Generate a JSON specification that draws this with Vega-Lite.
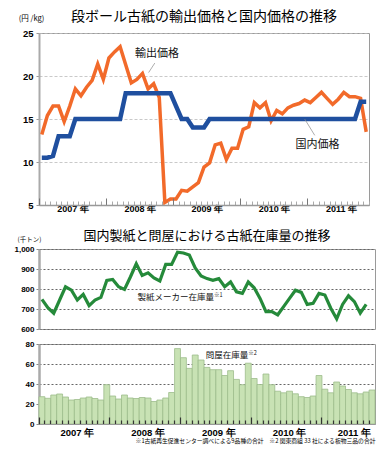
{
  "$schema": "https://vega.github.io/schema/vega-lite/v6.json",
  "background": "white",
  "padding": {"left": 13, "top": 9, "right": 4, "bottom": 2},
  "spacing": 15,
  "config": {
    "font": "Noto Sans CJK JP",
    "view": {"stroke": "#9a9a9a", "strokeWidth": 1},
    "axis": {"labelFont": "Liberation Sans", "labelFontWeight": "bold", "labelColor": "#000", "titleFont": "Noto Sans CJK JP", "titleFontWeight": "normal", "titleColor": "#000"},
    "title": {"font": "Noto Sans CJK JP", "fontWeight": "normal", "color": "#000", "anchor": "middle"}
  },
  "datasets": {
    "price": [
      {"i": 0, "e": 13.2, "d": 10.5}, {"i": 1, "e": 15.4, "d": 10.5}, {"i": 2, "e": 16.5, "d": 10.7}, {"i": 3, "e": 16.5, "d": 13},
      {"i": 4, "e": 14.7, "d": 13}, {"i": 5, "e": 16.5, "d": 13}, {"i": 6, "e": 18.5, "d": 15}, {"i": 7, "e": 17.7, "d": 15},
      {"i": 8, "e": 18.7, "d": 15}, {"i": 9, "e": 19.5, "d": 15}, {"i": 10, "e": 21.4, "d": 15}, {"i": 11, "e": 19.6, "d": 15},
      {"i": 12, "e": 22.1, "d": 15}, {"i": 13, "e": 22.8, "d": 15}, {"i": 14, "e": 23.4, "d": 15}, {"i": 15, "e": 21.3, "d": 18},
      {"i": 16, "e": 19.2, "d": 18}, {"i": 17, "e": 19.6, "d": 18}, {"i": 18, "e": 20.3, "d": 18}, {"i": 19, "e": 18.5, "d": 18},
      {"i": 20, "e": 19.1, "d": 18}, {"i": 21, "e": 17.5, "d": 18}, {"i": 22, "e": 5.3, "d": 18}, {"i": 23, "e": 5.7, "d": 18},
      {"i": 24, "e": 5.7, "d": 16.5}, {"i": 25, "e": 6.7, "d": 15}, {"i": 26, "e": 6.6, "d": 15}, {"i": 27, "e": 7.1, "d": 14},
      {"i": 28, "e": 7.6, "d": 14}, {"i": 29, "e": 9.4, "d": 14}, {"i": 30, "e": 9.9, "d": 15}, {"i": 31, "e": 12.0, "d": 15},
      {"i": 32, "e": 12.2, "d": 15}, {"i": 33, "e": 10.3, "d": 15}, {"i": 34, "e": 11.6, "d": 15}, {"i": 35, "e": 11.6, "d": 15},
      {"i": 36, "e": 13.8, "d": 15}, {"i": 37, "e": 14.1, "d": 15}, {"i": 38, "e": 16.9, "d": 15}, {"i": 39, "e": 16.3, "d": 15},
      {"i": 40, "e": 16.9, "d": 15}, {"i": 41, "e": 14.8, "d": 15}, {"i": 42, "e": 16.0, "d": 15}, {"i": 43, "e": 15.6, "d": 15},
      {"i": 44, "e": 16.3, "d": 15}, {"i": 45, "e": 16.6, "d": 15}, {"i": 46, "e": 16.8, "d": 15}, {"i": 47, "e": 17.2, "d": 15},
      {"i": 48, "e": 16.9, "d": 15}, {"i": 49, "e": 17.5, "d": 15}, {"i": 50, "e": 18.1, "d": 15}, {"i": 51, "e": 17.4, "d": 15},
      {"i": 52, "e": 16.7, "d": 15}, {"i": 53, "e": 17.3, "d": 15}, {"i": 54, "e": 18.1, "d": 15}, {"i": 55, "e": 17.6, "d": 15},
      {"i": 56, "e": 17.6, "d": 15}, {"i": 57, "e": 17.4, "d": 17}, {"i": 58, "e": 13.5, "d": 17}
    ],
    "inv": [
      {"i": 0, "m": 748, "w": 27.3}, {"i": 1, "m": 707, "w": 25.7}, {"i": 2, "m": 679, "w": 29}, {"i": 3, "m": 745, "w": 30},
      {"i": 4, "m": 811, "w": 27}, {"i": 5, "m": 794, "w": 24}, {"i": 6, "m": 745, "w": 24.5}, {"i": 7, "m": 773, "w": 26},
      {"i": 8, "m": 717, "w": 27}, {"i": 9, "m": 745, "w": 25.5}, {"i": 10, "m": 758, "w": 24}, {"i": 11, "m": 843, "w": 39.3},
      {"i": 12, "m": 848, "w": 28}, {"i": 13, "m": 811, "w": 25}, {"i": 14, "m": 798, "w": 29}, {"i": 15, "m": 860, "w": 26},
      {"i": 16, "m": 926, "w": 25.5}, {"i": 17, "m": 868, "w": 26.5}, {"i": 18, "m": 881, "w": 26}, {"i": 19, "m": 855, "w": 22.5},
      {"i": 20, "m": 840, "w": 24}, {"i": 21, "m": 923, "w": 26}, {"i": 22, "m": 923, "w": 31.5}, {"i": 23, "m": 984, "w": 75.4},
      {"i": 24, "m": 980, "w": 66.3}, {"i": 25, "m": 970, "w": 55.6}, {"i": 26, "m": 905, "w": 69}, {"i": 27, "m": 865, "w": 64},
      {"i": 28, "m": 852, "w": 56.6}, {"i": 29, "m": 843, "w": 54.3}, {"i": 30, "m": 852, "w": 54.3}, {"i": 31, "m": 811, "w": 48.5},
      {"i": 32, "m": 835, "w": 53.3}, {"i": 33, "m": 786, "w": 44.6}, {"i": 34, "m": 778, "w": 39.3}, {"i": 35, "m": 835, "w": 60.8},
      {"i": 36, "m": 806, "w": 45.5}, {"i": 37, "m": 753, "w": 39.5}, {"i": 38, "m": 687, "w": 50}, {"i": 39, "m": 687, "w": 39.3},
      {"i": 40, "m": 671, "w": 32.8}, {"i": 41, "m": 712, "w": 31.2}, {"i": 42, "m": 753, "w": 32.8}, {"i": 43, "m": 794, "w": 30.2},
      {"i": 44, "m": 783, "w": 27.3}, {"i": 45, "m": 723, "w": 26.5}, {"i": 46, "m": 728, "w": 28}, {"i": 47, "m": 778, "w": 48.5},
      {"i": 48, "m": 770, "w": 34.8}, {"i": 49, "m": 704, "w": 31.2}, {"i": 50, "m": 651, "w": 42}, {"i": 51, "m": 723, "w": 38},
      {"i": 52, "m": 766, "w": 34.5}, {"i": 53, "m": 737, "w": 31.2}, {"i": 54, "m": 679, "w": 30.2}, {"i": 55, "m": 723, "w": 32},
      {"i": 56, "m": null, "w": 34}
    ],
    "priceLabels": [
      {"i": 20.6, "e": 22.6, "label": "輸出価格"},
      {"i": 49.3, "e": 12.0, "label": "国内価格"}
    ],
    "priceLeaders": [
      {"i": 20.2, "e": 21.5, "i2": 19.1, "e2": 20.4},
      {"i": 47.0, "e": 15.0, "i2": 48.8, "e2": 13.1}
    ],
    "makerNotes": [
      {"i": 29.2, "m": 758, "t": "製紙メーカー在庫量", "s": "※1"}
    ],
    "wholesaleNotes": [
      {"i": 35, "w": 69, "t": "問屋在庫量", "s": "※2"}
    ]
  },
  "vconcat": [
    {
      "width": 330,
      "height": 172,
      "title": {"text": "段ボール古紙の輸出価格と国内価格の推移", "fontSize": 14, "offset": -10},
      "encoding": {
        "x": {
          "field": "i", "type": "quantitative",
          "scale": {"domain": [-0.5, 58.5], "nice": false, "zero": false},
          "axis": {
            "title": null, "grid": false, "zindex": 1,
            "values": [-0.5, 0.5, 1.5, 2.5, 3.5, 4.5, 5.5, 6.5, 7.5, 8.5, 9.5, 10.5, 11.5, 12.5, 13.5, 14.5, 15.5, 16.5, 17.5, 18.5, 19.5, 20.5, 21.5, 22.5, 23.5, 24.5, 25.5, 26.5, 27.5, 28.5, 29.5, 30.5, 31.5, 32.5, 33.5, 34.5, 35.5, 36.5, 37.5, 38.5, 39.5, 40.5, 41.5, 42.5, 43.5, 44.5, 45.5, 46.5, 47.5, 48.5, 49.5, 50.5, 51.5, 52.5, 53.5, 54.5, 55.5, 56.5, 57.5, 58.5],
            "labelExpr": "datum.value == 5.5 ? '2007 年' : datum.value == 17.5 ? '2008 年' : datum.value == 29.5 ? '2009 年' : datum.value == 41.5 ? '2010 年' : datum.value == 53.5 ? '2011 年' : ''",
            "labelFontSize": 9, "labelAngle": 0, "labelOverlap": false, "labelPadding": 3, "labelFlush": false,
            "domainColor": "#999", "domainWidth": 1.5,
            "tickSize": {"condition": {"test": "(datum.value + 0.5) % 12 == 0", "value": -7}, "value": -4},
            "tickColor": {"condition": {"test": "(datum.value + 0.5) % 12 == 0", "value": "#777"}, "value": "#aaa"},
            "tickWidth": 1
          }
        },
        "y": {
          "field": "e", "type": "quantitative", "title": "(円 /kg)",
          "scale": {"domain": [5, 25], "nice": false, "zero": false},
          "axis": {
            "values": [5, 10, 15, 20, 25], "grid": true, "gridColor": "#bbb", "gridDash": [3, 2], "gridWidth": 0.8,
            "domainColor": "#aaa", "domainWidth": 2, "tickColor": "#999", "tickSize": 3, "labelOverlap": false,
            "labelFontSize": 9.5, "labelPadding": 3,
            "titleAngle": 0, "titleX": -8, "titleY": -15, "titleAlign": "center", "titleBaseline": "middle", "titleFontSize": 7.5
          }
        }
      },
      "layer": [
        {
          "data": {"name": "price"},
          "mark": {"type": "line", "color": "#f26a2a", "strokeWidth": 3.5}
        },
        {
          "data": {"name": "price"},
          "mark": {"type": "line", "color": "#1f4f9f", "strokeWidth": 4.5},
          "encoding": {"y": {"field": "d", "type": "quantitative", "title": "(円 /kg)"}}
        },
        {
          "data": {"name": "priceLeaders"},
          "mark": {"type": "rule", "color": "#888", "strokeWidth": 0.7},
          "encoding": {
            "x2": {"field": "i2"},
            "y2": {"field": "e2"}
          }
        },
        {
          "data": {"name": "priceLabels"},
          "mark": {"type": "text", "fontSize": 11, "font": "Noto Sans CJK JP", "color": "#111"},
          "encoding": {"text": {"field": "label"}}
        }
      ]
    },
    {
      "spacing": 5,
      "vconcat": [
        {
          "width": 336,
          "height": 80,
          "title": {"text": "国内製紙と問屋における古紙在庫量の推移", "fontSize": 13, "offset": -7},
          "encoding": {
            "x": {"field": "i", "type": "quantitative", "scale": {"domain": [-0.5, 56.5], "nice": false, "zero": false}, "axis": null},
            "y": {
              "field": "m", "type": "quantitative", "title": "(千トン)",
              "scale": {"domain": [600, 1000], "nice": false, "zero": false},
              "axis": {
                "values": [600, 700, 800, 900, 1000], "format": ",d", "grid": true, "gridColor": "#666", "gridDash": [2, 2], "gridWidth": 1,
                "domainColor": "#aaa", "domainWidth": 2.5, "tickColor": "#888", "tickSize": 3, "labelOverlap": false,
                "labelFontSize": 8, "labelPadding": 2,
                "titleAngle": 0, "titleX": -10, "titleY": -10, "titleAlign": "center", "titleBaseline": "middle", "titleFontSize": 6.5
              }
            }
          },
          "layer": [
            {
              "data": {"name": "inv"},
              "mark": {"type": "line", "color": "#258a3a", "strokeWidth": 3.2}
            },
            {
              "data": {"name": "makerNotes"},
              "mark": {"type": "text", "fontSize": 8.5, "align": "right", "color": "#111"},
              "encoding": {"text": {"field": "t"}}
            },
            {
              "data": {"name": "makerNotes"},
              "mark": {"type": "text", "fontSize": 5.5, "align": "left", "dy": -2, "color": "#111"},
              "encoding": {"text": {"field": "s"}}
            }
          ]
        },
        {
          "width": 336,
          "height": 80,
          "encoding": {
            "x": {
              "field": "i", "type": "ordinal",
              "scale": {"paddingInner": 0, "paddingOuter": 0},
              "axis": {
                "title": "※1古紙再生促進センター調べによる9品種の合計　※2 関東商組 33 社による板物三品の合計",
                "titleFontSize": 5.8, "titleAnchor": "end", "titlePadding": 1,
                "bandPosition": 0, "zindex": 1,
                "labelExpr": "datum.value == 6 ? '2007 年' : datum.value == 18 ? '2008 年' : datum.value == 30 ? '2009 年' : datum.value == 42 ? '2010 年' : datum.value == 53 ? '2011 年' : ''",
                "labelFontSize": 9.5, "labelAngle": 0, "labelOverlap": false, "labelPadding": 7,
                "domainColor": "#999", "domainWidth": 1,
                "tickSize": {"condition": {"test": "datum.value % 12 == 0", "value": -7}, "value": -4},
                "tickColor": "#333", "tickWidth": 1.2
              }
            },
            "y": {
              "field": "w", "type": "quantitative", "title": null,
              "scale": {"domain": [0, 80], "nice": false},
              "axis": {
                "values": [0, 20, 40, 60, 80], "grid": true, "gridColor": "#666", "gridDash": [2, 2], "gridWidth": 1,
                "domainColor": "#aaa", "domainWidth": 2.5, "tickColor": "#888", "tickSize": 3, "labelOverlap": false,
                "labelFontSize": 8, "labelPadding": 2
              }
            }
          },
          "layer": [
            {
              "data": {"name": "inv"},
              "mark": {"type": "bar", "fill": "#c8e2b4", "stroke": "#9dbd8c", "strokeWidth": 0.8}
            },
            {
              "data": {"name": "wholesaleNotes"},
              "mark": {"type": "text", "fontSize": 8.5, "align": "right", "color": "#111"},
              "encoding": {"text": {"field": "t"}}
            },
            {
              "data": {"name": "wholesaleNotes"},
              "mark": {"type": "text", "fontSize": 5.5, "align": "left", "dy": -2, "color": "#111"},
              "encoding": {"text": {"field": "s"}}
            }
          ]
        }
      ]
    }
  ]
}
